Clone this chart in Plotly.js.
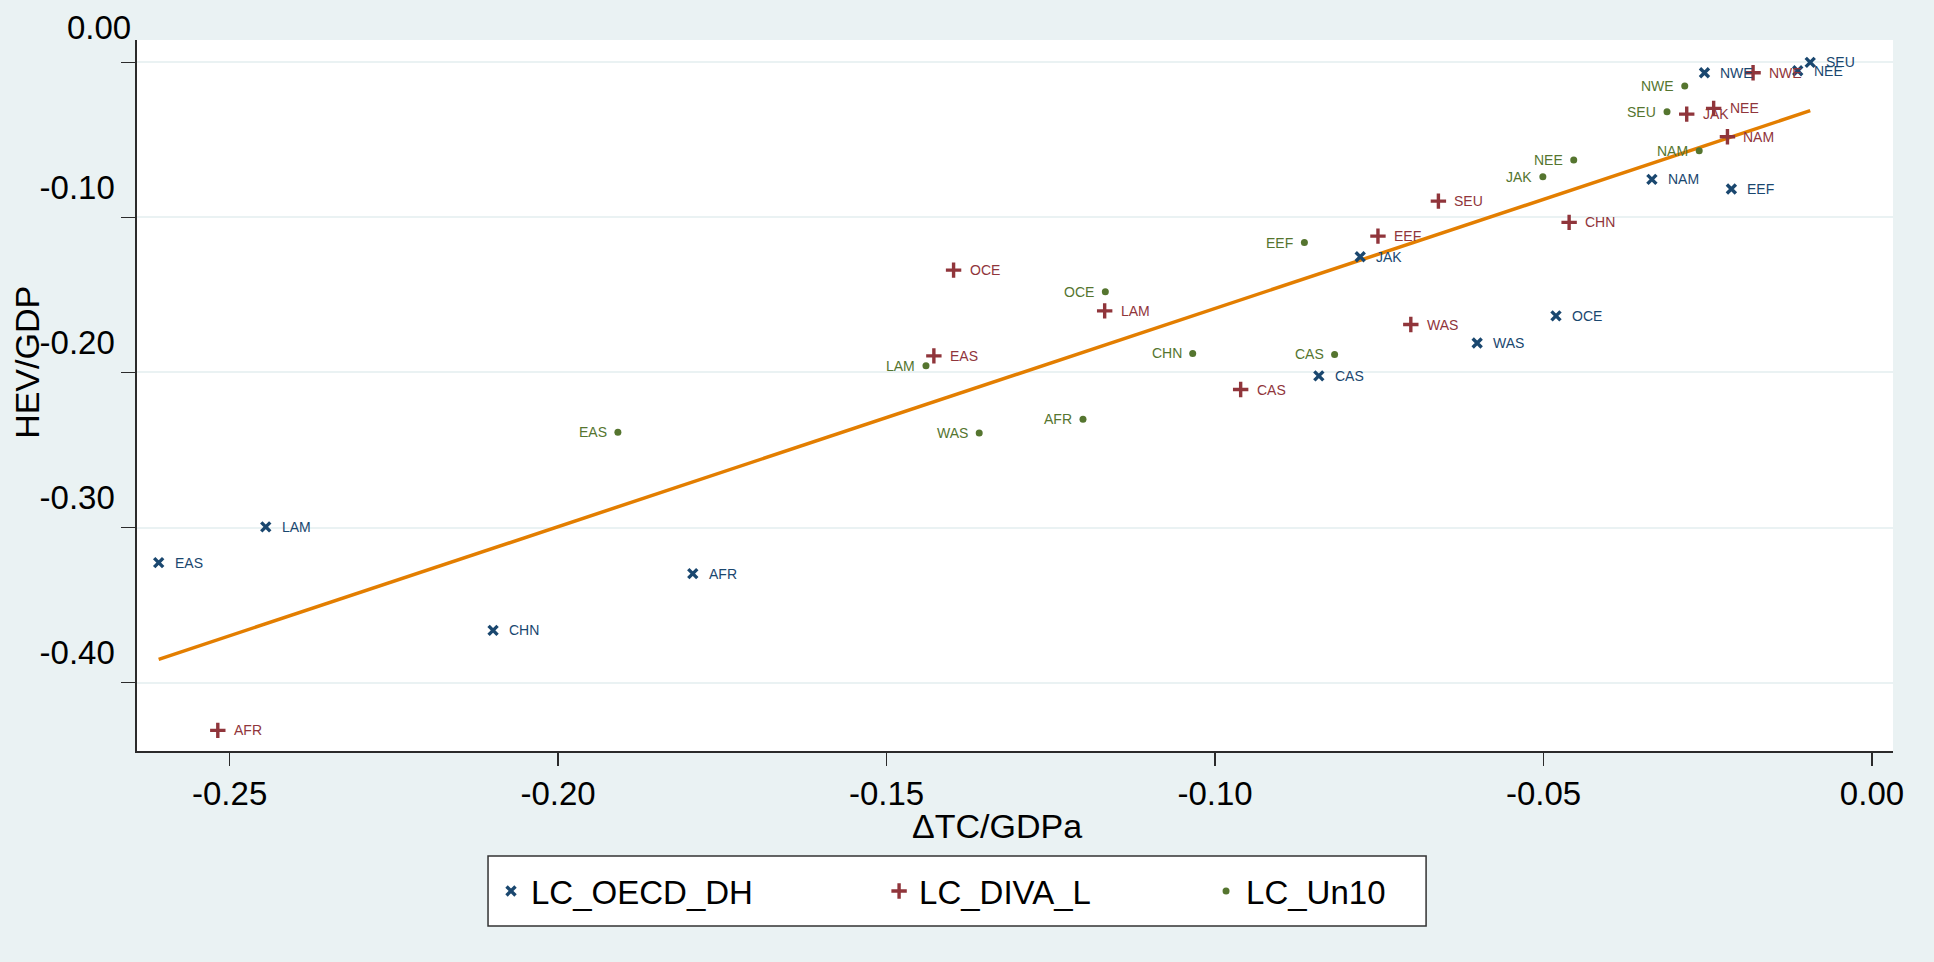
<!DOCTYPE html>
<html>
<head>
<meta charset="utf-8">
<script src="https://cdn.plot.ly/plotly-3.0.1.min.js"></script>
<style>html,body{margin:0;padding:0;background:#eaf2f3;}</style>
</head>
<body>
<div id="chart" style="width:1934px;height:962px;"></div>
<script>
// ---- data ----
const oecdRegions = ["EAS","LAM","CHN","AFR","CAS","JAK","WAS","OCE","NAM","EEF","NWE","NEE","SEU"];
const oecdX = [-0.2608,-0.2445,-0.2099,-0.1795,-0.0842,-0.0779,-0.0601,-0.0481,-0.0335,-0.0214,-0.0255,-0.0113,-0.0094];
const oecdY = [-0.3226,-0.2996,-0.3663,-0.3297,-0.2022,-0.1254,-0.1810,-0.1635,-0.0755,-0.0817,-0.0067,-0.0054,0.0000];

const divaRegions = ["AFR","EAS","OCE","LAM","CAS","EEF","WAS","SEU","CHN","JAK","NEE","NAM","NWE"];
const divaX = [-0.2518,-0.1428,-0.1398,-0.1168,-0.0961,-0.0752,-0.0702,-0.0660,-0.0461,-0.0282,-0.0241,-0.0220,-0.0181];
const divaY = [-0.4308,-0.1893,-0.1340,-0.1603,-0.2110,-0.1121,-0.1691,-0.0895,-0.1032,-0.0334,-0.0297,-0.0480,-0.0067];

const un10Regions = ["EAS","LAM","WAS","AFR","OCE","CHN","EEF","CAS","JAK","NEE","SEU","NWE","NAM"];
const un10X = [-0.1909,-0.1440,-0.1359,-0.1201,-0.1167,-0.1034,-0.0864,-0.0818,-0.0501,-0.0454,-0.0312,-0.0285,-0.0263];
const un10Y = [-0.2386,-0.1957,-0.2390,-0.2301,-0.1480,-0.1877,-0.1162,-0.1884,-0.0738,-0.0630,-0.0319,-0.0153,-0.0570];

const fitX = [-0.2608, -0.0094];
const fitY = [-0.3850, -0.0312];

const seriesNames = ["LC_OECD_DH", "LC_DIVA_L", "LC_Un10"];
const xTicks = [-0.25, -0.20, -0.15, -0.10, -0.05, 0.00];
const xTickLabels = ["-0.25", "-0.20", "-0.15", "-0.10", "-0.05", "0.00"];
const yTicks = [0.00, -0.10, -0.20, -0.30, -0.40];
const yTickLabels = ["0.00", "-0.10", "-0.20", "-0.30", "-0.40"];
const xTitle = "ΔTC/GDPa";
const yTitle = "HEV/GDP";

// ---- styling ----
const navy = "#1a476f", maroon = "#90353b", green = "#55752f", orange = "#e37e00";
const FONT = "Liberation Sans, Arial, sans-serif";

const traces = [
  {x: fitX, y: fitY, mode: "lines", line: {color: orange, width: 3.5}, showlegend: false, hoverinfo: "skip"},
  {x: oecdX, y: oecdY, name: seriesNames[0], mode: "markers", type: "scatter", legend: "legend",
   marker: {symbol: "x-thin", size: 9, color: navy, line: {color: navy, width: 3.4}}},
  {x: divaX, y: divaY, name: seriesNames[1], mode: "markers", type: "scatter", legend: "legend2",
   marker: {symbol: "cross-thin", size: 11, color: maroon, line: {color: maroon, width: 3.4}}},
  {x: un10X, y: un10Y, name: seriesNames[2], mode: "markers", type: "scatter", legend: "legend3",
   marker: {symbol: "circle", size: 7, color: green, line: {width: 0}}}
];

const annotations = [];
function addLabels(xs, ys, labs, color, side) {
  for (let i = 0; i < xs.length; i++) {
    annotations.push({
      x: xs[i], y: ys[i], xref: "x", yref: "y", text: labs[i], showarrow: false,
      xanchor: side === "right" ? "left" : "right", yanchor: "middle",
      xshift: side === "right" ? 14 : -9,
      font: {family: FONT, size: 14, color: color}
    });
  }
}
addLabels(oecdX, oecdY, oecdRegions, navy, "right");
addLabels(divaX, divaY, divaRegions, maroon, "right");
addLabels(un10X, un10Y, un10Regions, green, "left");

annotations.push({text: xTitle, xref: "paper", yref: "paper", x: 0.49, y: -0.105, xanchor: "center", yanchor: "middle",
  showarrow: false, font: {family: FONT, size: 34, color: "#000"}});
annotations.push({text: yTitle, xref: "paper", yref: "paper", x: -0.0624, y: 0.5465, xanchor: "center", yanchor: "middle",
  textangle: -90, showarrow: false, font: {family: FONT, size: 34, color: "#000"}});
// the top y label sits a little further right in the reference
annotations.push({text: yTickLabels[0], xref: "paper", yref: "paper", x: -0.0023, y: 1.0169, xanchor: "right", yanchor: "middle",
  showarrow: false, font: {family: FONT, size: 33, color: "#000"}});
const yTickText = yTickLabels.map((t, i) => i === 0 ? "" : t);

function legendAt(xp) {
  return {
    orientation: "h", x: xp, y: -0.1969, xanchor: "left", yanchor: "middle",
    bgcolor: "rgba(0,0,0,0)", borderwidth: 0,
    font: {family: FONT, size: 33, color: "#000"}, itemwidth: 30
  };
}

const layout = {
  width: 1934, height: 962,
  paper_bgcolor: "#eaf2f3", plot_bgcolor: "#ffffff",
  margin: {l: 137, r: 41, t: 40, b: 211, pad: 0},
  font: {family: FONT, color: "#000"},
  xaxis: {
    range: [-0.2641, 0.0032], tickvals: xTicks, ticktext: xTickLabels,
    showgrid: false, zeroline: false, showline: true, linecolor: "#2b2b2b", linewidth: 1.6,
    ticks: "outside", ticklen: 13, tickwidth: 1.6, tickcolor: "#2b2b2b",
    tickfont: {family: FONT, size: 33, color: "#000"}
  },
  yaxis: {
    range: [-0.4441, 0.0144], tickvals: yTicks, ticktext: yTickText,
    showgrid: true, gridcolor: "#eaf2f3", gridwidth: 2, zeroline: false,
    showline: true, linecolor: "#2b2b2b", linewidth: 1.6,
    ticks: "outside", ticklen: 14, tickwidth: 1.6, tickcolor: "#2b2b2b",
    ticklabelshift: -30,
    tickfont: {family: FONT, size: 33, color: "#000"}
  },
  showlegend: true,
  legend: legendAt(0.2016),
  legend2: legendAt(0.4226),
  legend3: legendAt(0.6088),
  shapes: [{
    type: "rect", xref: "paper", yref: "paper",
    x0: 0.1999, x1: 0.7341, y0: -0.1477, y1: -0.2461,
    fillcolor: "#ffffff", line: {color: "#333333", width: 1.5}, layer: "above"
  }],
  annotations: annotations
};

Plotly.newPlot("chart", traces, layout, {displayModeBar: false, staticPlot: true});
</script>
</body>
</html>
